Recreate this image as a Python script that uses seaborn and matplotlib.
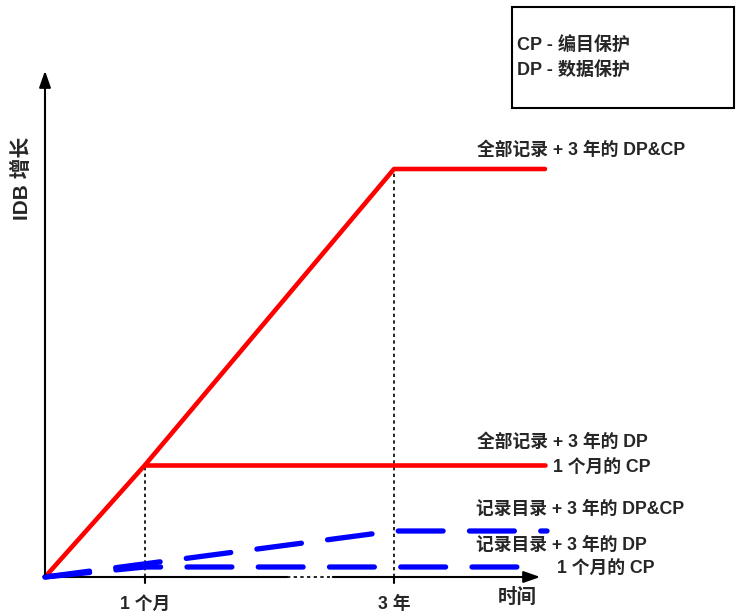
import pandas as pd
import matplotlib
matplotlib.use("Agg")
import matplotlib.pyplot as plt
import seaborn as sns
from matplotlib.patches import Rectangle

sns.set_style("white")
plt.rcParams['font.family'] = ['Liberation Sans', 'Noto Sans CJK SC', 'DejaVu Sans']
plt.rcParams['font.weight'] = 'bold'

# time positions (0 = start, 1 = 1 month, 3.49 = 3 years)
t_full = [0, 1.0, 3.49, 5.0]
idb_full_all = [0, 1.12, 4.08, 4.08]
t_full_dp = [1.0, 5.0]
idb_full_dp = [1.12, 1.12]
t_cat_all = [0, 3.49, 5.02]
idb_cat_all = [0, 0.46, 0.46]
t_cat_dp = [0, 1.0, 4.77]
idb_cat_dp = [0, 0.10, 0.10]

tick_pos = [1.0, 3.49]
tick_labels = ["1 个月", "3 年"]

red = "#ff0000"
blue = "#0000ff"

fig = plt.figure(figsize=(7.37, 6.12), dpi=100)
ax = fig.add_axes([0, 0, 1, 1])
ax.set_xlim(-0.45, 6.92)
ax.set_ylim(-0.35, 5.77)
ax.axis("off")

# guide lines
ax.plot([1.0, 1.0], [0, 1.12], color="black", lw=1.2, ls=(0, (2, 2)))
ax.plot([3.49, 3.49], [0, 4.08], color="black", lw=1.2, ls=(0, (2, 2)))

# axes with arrows
ax.plot([0, 2.42], [0, 0], color="black", lw=1.5)
ax.plot([2.42, 2.85], [0, 0], color="black", lw=1.2, ls=(0, (2, 2)))
ax.annotate("", xy=(4.98, 0), xytext=(2.85, 0),
            arrowprops=dict(arrowstyle="-|>,head_length=1.0,head_width=0.35", color="black", lw=1.5))
ax.annotate("", xy=(0, 5.09), xytext=(0, 0),
            arrowprops=dict(arrowstyle="-|>,head_length=1.0,head_width=0.35", color="black", lw=1.5))
for x in tick_pos:
    ax.plot([x, x], [0, -0.06], color="black", lw=1.5)

# series
df1 = pd.DataFrame({"t": t_full, "v": idb_full_all})
df2 = pd.DataFrame({"t": t_full_dp, "v": idb_full_dp})
df3 = pd.DataFrame({"t": t_cat_all, "v": idb_cat_all})
df4 = pd.DataFrame({"t": t_cat_dp, "v": idb_cat_dp})
sns.lineplot(data=df1, x="t", y="v", sort=False, estimator=None, color=red, lw=3.3,
             solid_capstyle="round", ax=ax)
sns.lineplot(data=df2, x="t", y="v", sort=False, estimator=None, color=red, lw=3.3,
             solid_capstyle="round", ax=ax)
sns.lineplot(data=df3, x="t", y="v", sort=False, estimator=None, color=blue, lw=3.8,
             ax=ax).lines[-1].set(linestyle=(0, (8.5, 5.0)), dash_capstyle="round")
sns.lineplot(data=df4, x="t", y="v", sort=False, estimator=None, color=blue, lw=3.8,
             ax=ax).lines[-1].set(linestyle=(0, (8.5, 5.0)), dash_capstyle="round")
ax.set_xlim(-0.45, 6.92)
ax.set_ylim(-0.35, 5.77)

fs = 12.8
ax.text(4.32, 4.27, "全部记录 + 3 年的 DP&CP", fontsize=fs, va="center", ha="left")
ax.text(4.32, 1.35, "全部记录 + 3 年的 DP", fontsize=fs, va="center", ha="left")
ax.text(5.08, 1.10, "1 个月的 CP", fontsize=fs, va="center", ha="left")
ax.text(4.31, 0.68, "记录目录 + 3 年的 DP&CP", fontsize=fs, va="center", ha="left")
ax.text(4.31, 0.32, "记录目录 + 3 年的 DP", fontsize=fs, va="center", ha="left")
ax.text(5.12, 0.09, "1 个月的 CP", fontsize=fs, va="center", ha="left")
ax.text(4.53, -0.20, "时间", fontsize=14, va="center", ha="left")
for x, lab in zip(tick_pos, tick_labels):
    ax.text(x, -0.27, lab, fontsize=fs, va="center", ha="center")
ax.text(-0.23, 3.99, "IDB 增长", fontsize=15, va="center", ha="center", rotation=90)

ax.add_patch(Rectangle((4.67, 4.69), 2.22, 1.01, fill=False, edgecolor="black", lw=1.5))
ax.text(4.72, 5.31, "CP - 编目保护", fontsize=13, va="center", ha="left")
ax.text(4.72, 5.07, "DP - 数据保护", fontsize=13, va="center", ha="left")

fig.savefig("out.png", dpi=100)
